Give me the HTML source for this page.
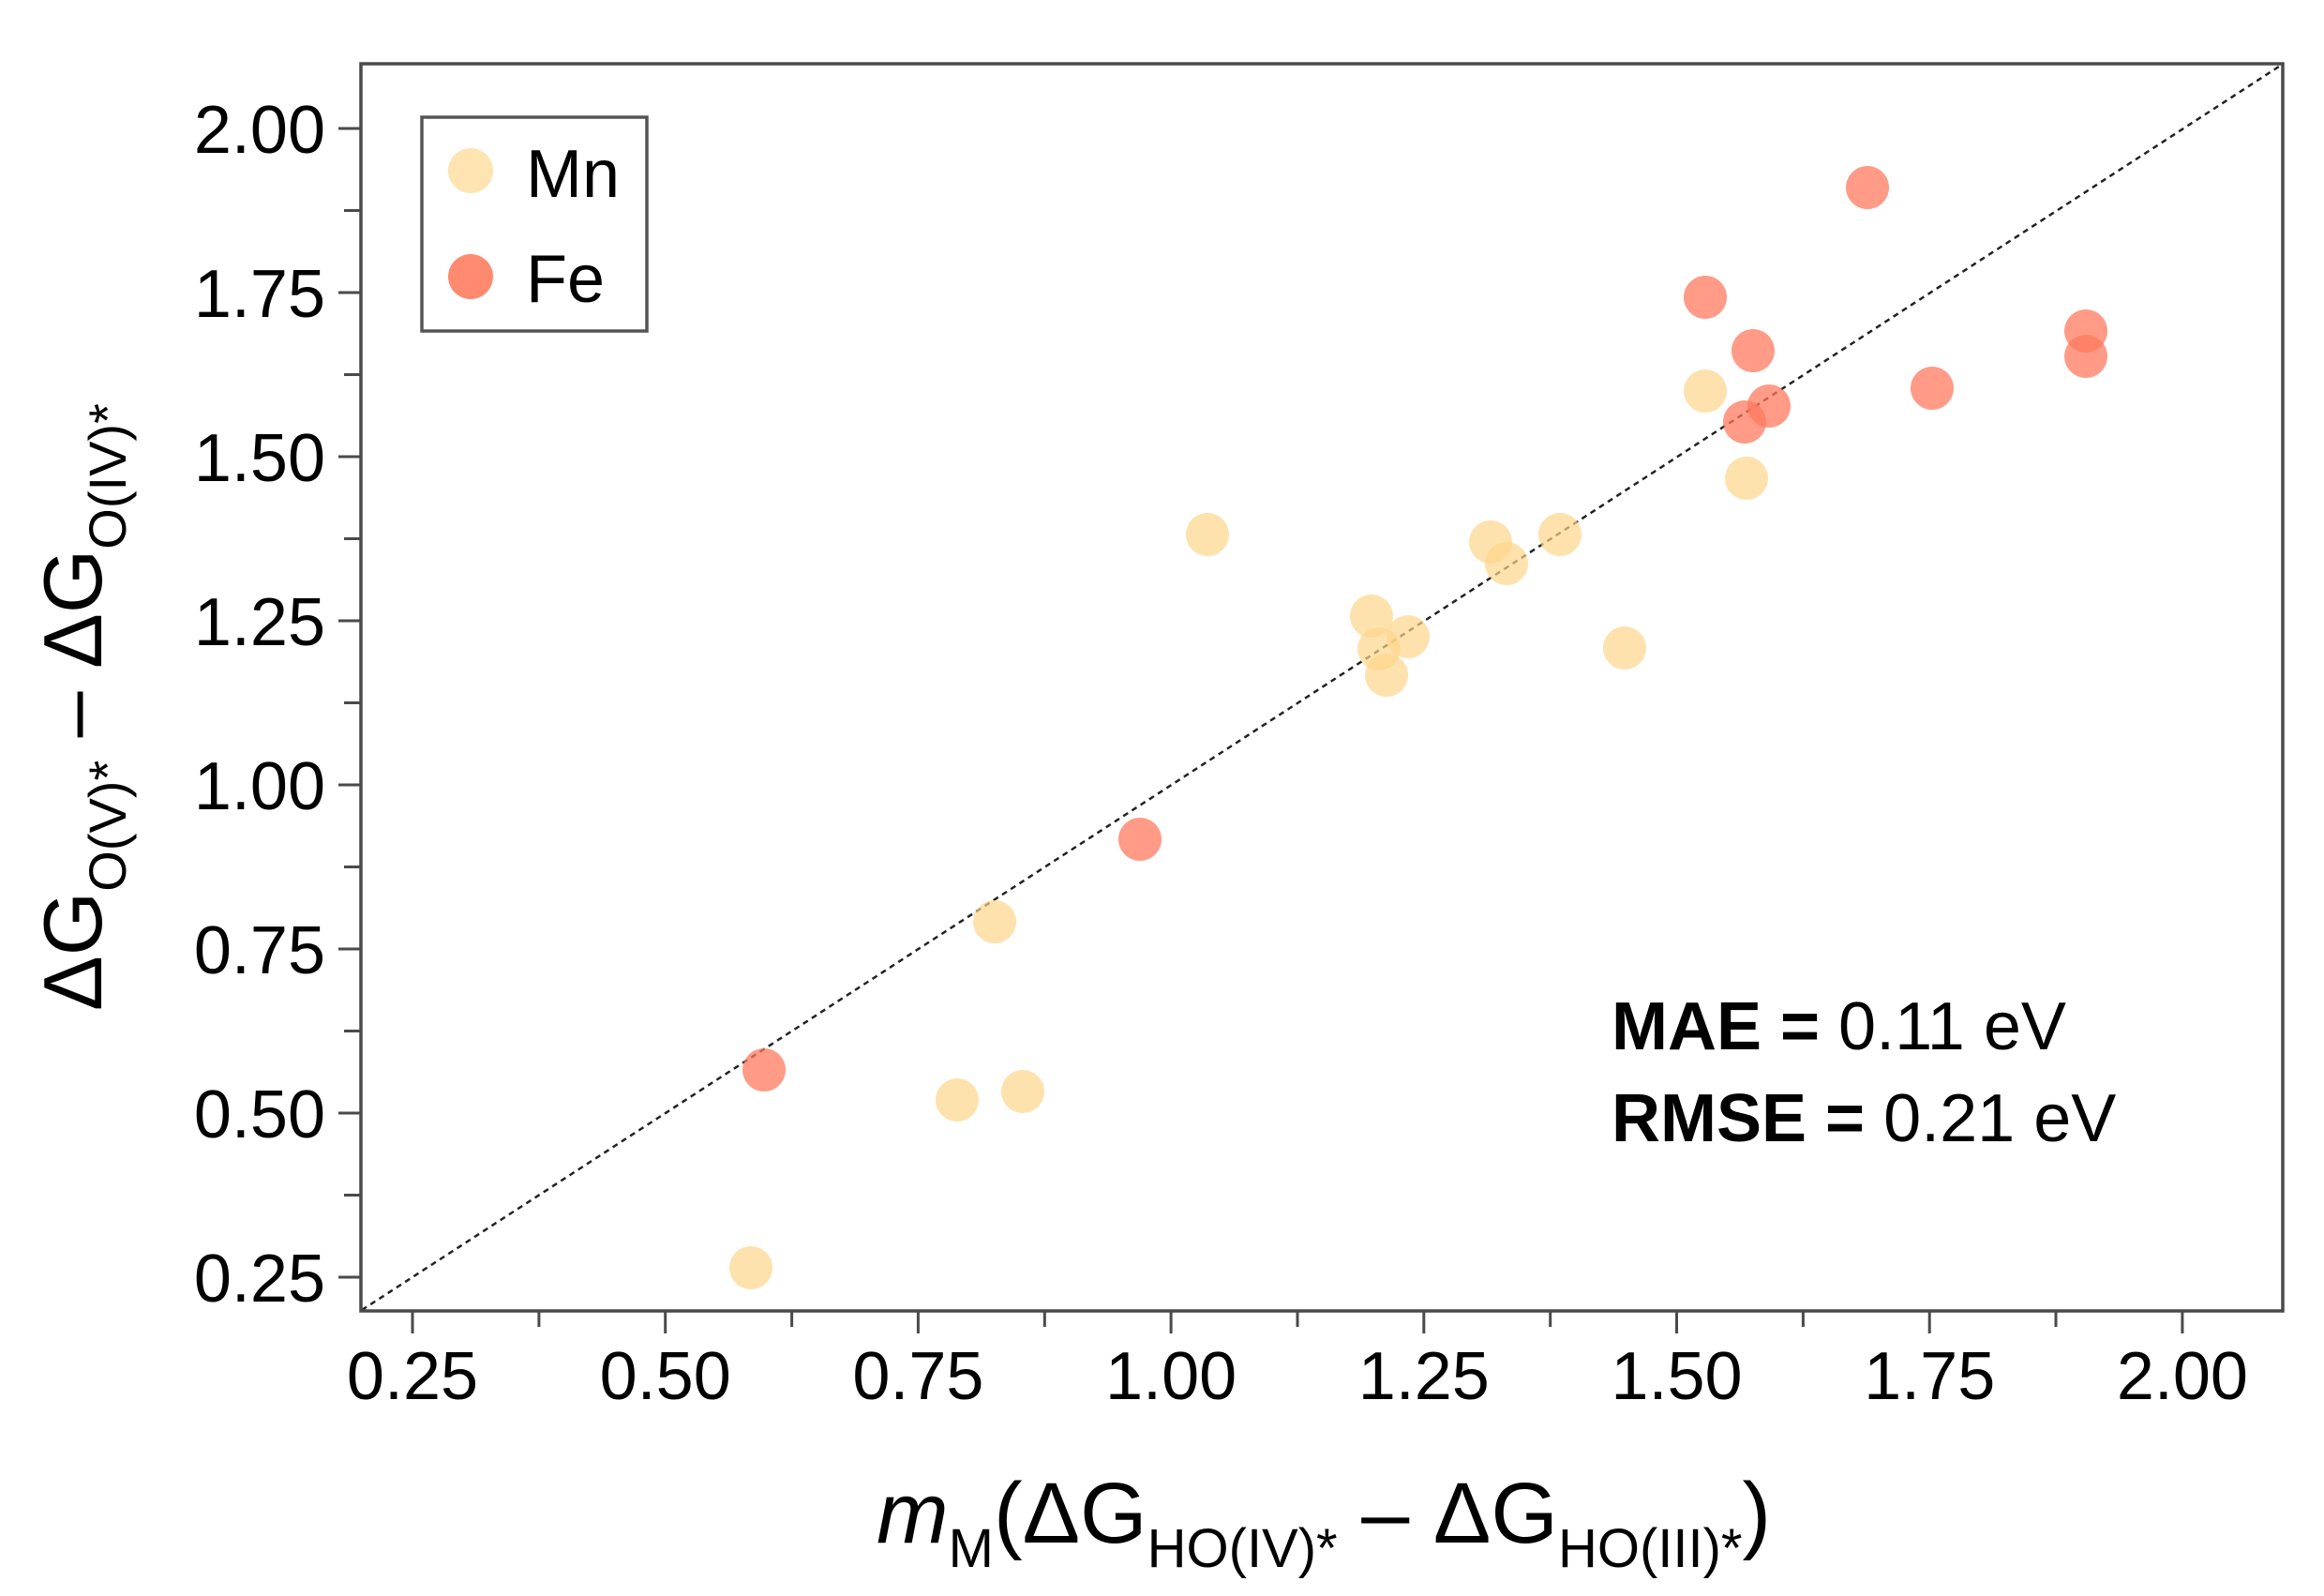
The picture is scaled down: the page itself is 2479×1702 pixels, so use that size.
<!DOCTYPE html>
<html><head><meta charset="utf-8"><style>
html,body{margin:0;padding:0;background:#fff}
svg{display:block}
text{font-family:"Liberation Sans",sans-serif;fill:#000}
</style></head><body>
<svg width="2479" height="1702" viewBox="0 0 2479 1702" xmlns="http://www.w3.org/2000/svg">
<rect width="2479" height="1702" fill="#fff"/>
<g id="ticks" stroke="#4a4a4a" stroke-width="3">
<line x1="361" y1="137" x2="385" y2="137"/>
<line x1="361" y1="312" x2="385" y2="312"/>
<line x1="361" y1="487" x2="385" y2="487"/>
<line x1="361" y1="662" x2="385" y2="662"/>
<line x1="361" y1="837" x2="385" y2="837"/>
<line x1="361" y1="1012" x2="385" y2="1012"/>
<line x1="361" y1="1187" x2="385" y2="1187"/>
<line x1="361" y1="1362" x2="385" y2="1362"/>
<line x1="367" y1="224.5" x2="385" y2="224.5"/>
<line x1="367" y1="399.5" x2="385" y2="399.5"/>
<line x1="367" y1="574.5" x2="385" y2="574.5"/>
<line x1="367" y1="749.5" x2="385" y2="749.5"/>
<line x1="367" y1="924.5" x2="385" y2="924.5"/>
<line x1="367" y1="1099.5" x2="385" y2="1099.5"/>
<line x1="367" y1="1274.5" x2="385" y2="1274.5"/>
<line x1="440" y1="1398" x2="440" y2="1422"/>
<line x1="709.7" y1="1398" x2="709.7" y2="1422"/>
<line x1="979.4" y1="1398" x2="979.4" y2="1422"/>
<line x1="1249.1" y1="1398" x2="1249.1" y2="1422"/>
<line x1="1518.8" y1="1398" x2="1518.8" y2="1422"/>
<line x1="1788.5" y1="1398" x2="1788.5" y2="1422"/>
<line x1="2058.2" y1="1398" x2="2058.2" y2="1422"/>
<line x1="2327.9" y1="1398" x2="2327.9" y2="1422"/>
<line x1="574.9" y1="1398" x2="574.9" y2="1415"/>
<line x1="844.6" y1="1398" x2="844.6" y2="1415"/>
<line x1="1114.3" y1="1398" x2="1114.3" y2="1415"/>
<line x1="1384" y1="1398" x2="1384" y2="1415"/>
<line x1="1653.7" y1="1398" x2="1653.7" y2="1415"/>
<line x1="1923.4" y1="1398" x2="1923.4" y2="1415"/>
<line x1="2193" y1="1398" x2="2193" y2="1415"/>
</g>
<g font-size="72" text-anchor="end">
<text x="347" y="163">2.00</text>
<text x="347" y="338">1.75</text>
<text x="347" y="513">1.50</text>
<text x="347" y="688">1.25</text>
<text x="347" y="863">1.00</text>
<text x="347" y="1038">0.75</text>
<text x="347" y="1213">0.50</text>
<text x="347" y="1388">0.25</text>
</g>
<g font-size="72" text-anchor="middle">
<text x="440" y="1492">0.25</text>
<text x="709.7" y="1492">0.50</text>
<text x="979.4" y="1492">0.75</text>
<text x="1249.1" y="1492">1.00</text>
<text x="1518.8" y="1492">1.25</text>
<text x="1788.5" y="1492">1.50</text>
<text x="2058.2" y="1492">1.75</text>
<text x="2327.9" y="1492">2.00</text>
</g>
<line x1="386" y1="1397" x2="2434" y2="69" stroke="#222" stroke-width="2.5" stroke-dasharray="6 5"/>
<g transform="translate(-7,-4)">
<g fill="#fdd68c" fill-opacity="0.7">
<circle cx="1826" cy="421" r="23"/>
<circle cx="1870" cy="514" r="23"/>
<circle cx="1295" cy="574" r="23"/>
<circle cx="1597" cy="582" r="23"/>
<circle cx="1671" cy="574" r="23"/>
<circle cx="1614" cy="605" r="23"/>
<circle cx="1470" cy="661" r="23"/>
<circle cx="1478" cy="696" r="23"/>
<circle cx="1509" cy="683" r="23"/>
<circle cx="1486" cy="724" r="23"/>
<circle cx="1740" cy="695" r="23"/>
<circle cx="1068" cy="987" r="23"/>
<circle cx="1028" cy="1177" r="23"/>
<circle cx="1098" cy="1168" r="23"/>
<circle cx="808" cy="1356" r="23"/>
</g>
<g fill="#ff7a5e" fill-opacity="0.75">
<circle cx="1999" cy="204" r="23"/>
<circle cx="1826" cy="321" r="23"/>
<circle cx="1877" cy="378" r="23"/>
<circle cx="1868" cy="454" r="23"/>
<circle cx="1894" cy="437" r="23"/>
<circle cx="2068" cy="418" r="23"/>
<circle cx="2232" cy="357" r="23"/>
<circle cx="2232" cy="384" r="23"/>
<circle cx="1223" cy="899" r="23"/>
<circle cx="822" cy="1145" r="23"/>
</g>
</g>
<rect x="385" y="68" width="2050" height="1330" fill="none" stroke="#4a4a4a" stroke-width="3.5"/>
<rect x="450" y="125" width="240" height="228" fill="#fff" stroke="#555" stroke-width="3.5"/>
<circle cx="502" cy="182" r="24" fill="#fee4b0"/>
<circle cx="502" cy="295" r="24" fill="#ff8a70"/>
<g font-size="72">
<text x="561" y="210">Mn</text>
<text x="561" y="322">Fe</text>
</g>
<g font-size="72">
<text x="1719" y="1119"><tspan font-weight="bold">MAE =</tspan> 0.11 eV</text>
<text x="1719" y="1217"><tspan font-weight="bold">RMSE =</tspan> 0.21 eV</text>
</g>
<text x="935" y="1645" font-size="92"><tspan font-style="italic">m</tspan><tspan font-size="58" dy="26">M</tspan><tspan dy="-26">(ΔG</tspan><tspan font-size="58" dy="26">HO(IV)*</tspan><tspan dy="-26"> – ΔG</tspan><tspan font-size="58" dy="26">HO(III)*</tspan><tspan dy="-26">)</tspan></text>
<text transform="translate(108,1078) rotate(-90)" font-size="88">ΔG<tspan font-size="56" dy="26">O(V)*</tspan><tspan dy="-26"> – ΔG</tspan><tspan font-size="56" dy="26">O(IV)*</tspan></text>
</svg>
</body></html>
